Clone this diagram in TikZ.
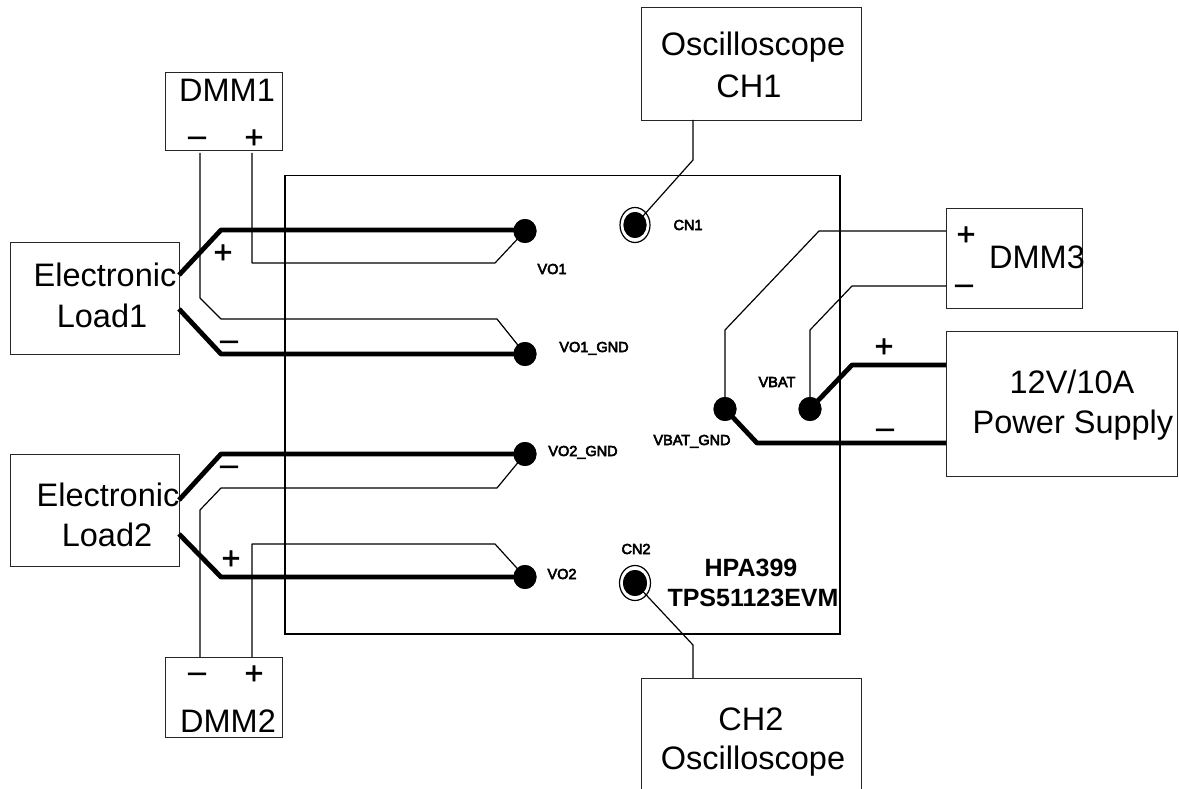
\documentclass[tikz,border=0pt]{standalone}
\usepackage{fontspec}
\setmainfont{Liberation Sans}
\newfontfamily\smallf[FakeBold=4]{Liberation Sans}
\newfontfamily\signf[FakeBold=1.5]{Liberation Sans}
\tikzset{
  every picture/.style={x=1pt,y=-1pt},
  box/.style={draw=black!85,line width=1.3pt,inner sep=0pt,anchor=north west},
  board/.style={draw=black,line width=1.5pt,inner sep=0pt,anchor=north west},
  big/.style={inner sep=0pt,anchor=base,font=\fontsize{32.5}{36}\selectfont},
  small/.style={inner sep=0pt,anchor=base,font=\smallf\fontsize{14.5}{16}\selectfont},
  strong/.style={inner sep=0pt,anchor=base,font=\bfseries\fontsize{25}{28}\selectfont},
  sign/.style={inner sep=0pt,anchor=base,font=\signf\fontsize{32}{36}\selectfont},
  wire/.style={draw=black,line width=1.2pt,line join=round},
  power/.style={draw=black,line width=4.8pt,line join=round},
  pad/.style={ellipse,fill=black,inner sep=0pt,minimum width=23pt,minimum height=24pt},
  ring/.style={ellipse,draw=black,line width=1.2pt,fill=white,inner sep=0pt},
  core/.style={ellipse,fill=black,inner sep=0pt}
}
\usetikzlibrary{shapes.geometric}
\begin{document}
\begin{tikzpicture}
\useasboundingbox (0,0) rectangle (1179,789);
% boxes
\node[board,minimum width=555pt,minimum height=458pt] (brd) at (284,175) {};
\node[box,minimum width=117pt,minimum height=78pt] (dmm1) at (165,72) {};
\node[box,minimum width=117pt,minimum height=80pt] (dmm2) at (165,657) {};
\node[box,minimum width=136pt,minimum height=100pt] (dmm3) at (946,208) {};
\node[box,minimum width=169pt,minimum height=112pt] (el1) at (10,242) {};
\node[box,minimum width=169pt,minimum height=112pt] (el2) at (10,454) {};
\node[box,minimum width=231pt,minimum height=145pt] (ps) at (946,331) {};
\node[box,minimum width=220pt,minimum height=113pt] (sc1) at (641,7) {};
\node[box,minimum width=220pt,minimum height=120pt] (sc2) at (641,678) {};
% terminals
\coordinate (d1m) at (200,153);
\coordinate (d1p) at (252,153);
\coordinate (d2m) at (200,657);
\coordinate (d2p) at (252,657);
\coordinate (d3p) at (946,231);
\coordinate (d3m) at (946,286);
\coordinate (l1p) at (179,275);
\coordinate (l1m) at (179,309);
\coordinate (l2m) at (179,500);
\coordinate (l2p) at (179,534);
\coordinate (psp) at (946,365);
\coordinate (psm) at (946,443);
\coordinate (s1t) at (693,120);
\coordinate (s2t) at (693,678);
% pads
\node[pad] (vo1) at (525,231) {};
\node[pad] (vo1g) at (525,354) {};
\node[pad] (vo2g) at (525,454) {};
\node[pad] (vo2) at (525,577) {};
\node[pad] (vbg) at (725,409) {};
\node[pad] (vb) at (810,409) {};
% thin wires
\draw[wire] (d1p) -- (252,263) -- (495,263) -- (vo1.center);
\draw[wire] (d1m) -- (200,298) -- (221,319) -- (497,319) -- (vo1g.center);
\draw[wire] (d2m) -- (200,510) -- (221,488) -- (497,488) -- (vo2g.center);
\draw[wire] (d2p) -- (252,544) -- (495,544) -- (vo2.center);
\draw[wire] (d3p) -- (819,231) -- (725,330) -- (vbg.center);
\draw[wire] (d3m) -- (852,286) -- (810,330) -- (vb.center);
% power wires
\draw[power] (l1p) -- (221,230) -- (vo1.center |- 0,230);
\draw[power] (l1m) -- (221,354) -- (vo1g.center);
\draw[power] (l2m) -- (221,454) -- (vo2g.center);
\draw[power] (l2p) -- (221,577) -- (vo2.center);
\draw[power] (psp) -- (852,365) -- (vb.center);
\draw[power] (psm) -- (757,443) -- (vbg.center);
% pads again on top of wires
\node[pad] at (vo1) {};
\node[pad] at (vo1g) {};
\node[pad] at (vo2g) {};
\node[pad] at (vo2) {};
\node[pad] at (vbg) {};
\node[pad] at (vb) {};
% connectors
\node[ring,minimum width=30pt,minimum height=35pt] (cn1o) at (635,225) {};
\node[core,minimum width=23pt,minimum height=26pt] (cn1) at (635,225) {};
\node[ring,minimum width=31pt,minimum height=35pt] (cn2o) at (635,583) {};
\node[core,minimum width=24pt,minimum height=26pt] (cn2) at (635,583) {};
\draw[wire] (s1t) -- (693,160) -- (cn1.center);
\draw[wire] (s2t) -- (693,645) -- (cn2.center);
\node[core,minimum width=23pt,minimum height=26pt] at (635,225) {};
\node[core,minimum width=24pt,minimum height=26pt] at (635,583) {};
% big labels
\node[big] (t1) at (227,102) {DMM1};
\node[big] (t2) at (228,732) {DMM2};
\node[big] (t3) at (1037,269) {DMM3};
\node[big] (t4) at (105,286) {Electronic};
\node[big] (t5) at (102,327) {Load1};
\node[big] (t6) at (108,506) {Electronic};
\node[big] (t7) at (107,546) {Load2};
\node[big] (t8) at (753,56) {Oscilloscope};
\node[big] (t9) at (749,98) {CH1};
\node[big] (t10) at (751,730) {CH2};
\node[big] (t11) at (753,769) {Oscilloscope};
\node[big] (t12) at (1072,393) {12V/10A};
\node[big] (t13) at (1073,433) {Power Supply};
\node[strong] (t14) at (751,576) {HPA399};
\node[strong] (t15) at (753,606) {TPS51123EVM};
% small labels
\node[small] (s1) at (688,230) {CN1};
\node[small] (s2) at (636,554) {CN2};
\node[small] (s3) at (552,274) {VO1};
\node[small] (s4) at (594,352) {VO1\_GND};
\node[small] (s5) at (583,456) {VO2\_GND};
\node[small] (s6) at (562,579) {VO2};
\node[small] (s7) at (777,387) {VBAT};
\node[small] (s8) at (692,445) {VBAT\_GND};
% signs
\node[sign] (g1) at (254,148) {+};
\node[sign] (g2) at (197,146) {–};
\node[sign] (g3) at (223,263) {+};
\node[sign] (g4) at (229,350) {–};
\node[sign] (g5) at (229,475) {–};
\node[sign] (g6) at (231,569) {+};
\node[sign] (g7) at (197,682) {–};
\node[sign] (g8) at (254,684) {+};
\node[sign] (g9) at (966,245) {+};
\node[sign] (g10) at (964,294) {–};
\node[sign] (g11) at (884,357) {+};
\node[sign] (g12) at (885,438) {–};
\end{tikzpicture}
\end{document}
